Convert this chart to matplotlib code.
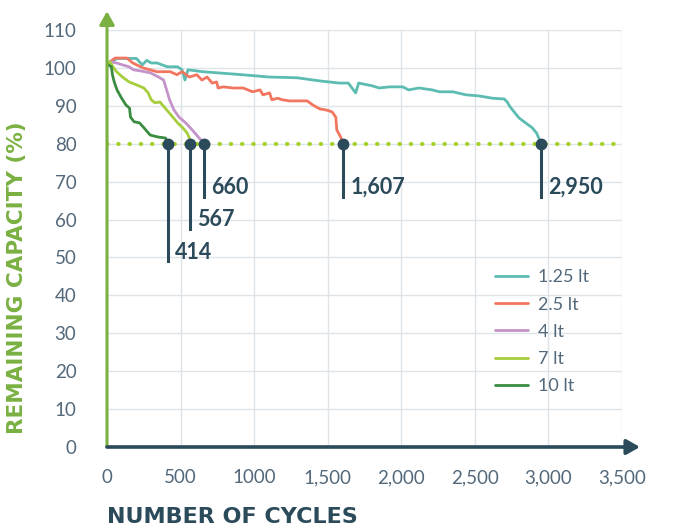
import matplotlib

matplotlib.use("Agg")
import matplotlib.pyplot as plt

# capacity fade per depth-of-discharge series (cycles, remaining %)
cyc_125 = [0, 20, 70, 200, 240, 270, 300, 340, 410, 480, 510, 530, 550, 650, 750, 920, 1100,
           1290, 1460, 1580, 1640, 1690, 1710, 1800, 1850, 1920, 2010, 2050, 2120, 2210, 2260,
           2350, 2440, 2530, 2620, 2700, 2720, 2740, 2800, 2890, 2920, 2950]
cap_125 = [101, 101.5, 102.5, 102.5, 100.8, 102, 101.3, 101.3, 100.3, 100.3, 99.5, 96.8, 99.5,
           99, 98.7, 98.2, 97.6, 97.4, 96.5, 96, 96, 93.4, 96, 95.3, 94.7, 95, 95, 94.2, 94.7,
           94.2, 93.7, 93.7, 92.9, 92.6, 92, 91.8, 91, 89.7, 86.8, 84.2, 82.8, 80]

cyc_25 = [0, 20, 55, 135, 175, 245, 340, 430, 475, 510, 560, 610, 645, 680, 715, 745, 755, 790,
          855, 925, 990, 1040, 1060, 1105, 1120, 1160, 1190, 1240, 1360, 1400, 1445, 1490, 1530,
          1555, 1562, 1585, 1607]
cap_25 = [101, 101.6, 102.6, 102.6, 101.3, 100, 99, 99, 98.2, 99, 97.6, 98.2, 96.8, 97.6, 96,
          96.3, 94.7, 95, 94.7, 94.7, 93.7, 94.2, 92.9, 93.4, 91.6, 92, 91.6, 91.3, 91.3, 90.2,
          89.2, 88.9, 88.4, 87, 83.6, 82, 80]

cyc_4 = [0, 20, 65, 105, 150, 180, 230, 295, 350, 385, 405, 425, 455, 490, 535, 580, 620, 660]
cap_4 = [101, 101.6, 101.3, 100.8, 100.3, 99.5, 99.2, 98.7, 97.6, 96.8, 94.2, 91.6, 88.9, 87,
         85.5, 83.6, 81.8, 80]

cyc_7 = [0, 20, 40, 65, 105, 150, 215, 250, 280, 300, 325, 360, 395, 435, 480, 515, 545, 560, 567]
cap_7 = [101, 101.6, 100.3, 99, 97.6, 96.3, 95.3, 94.7, 93.4, 91.6, 90.8, 91, 89.4, 87.6, 85.5,
         84.2, 82.8, 81.5, 80]

cyc_10 = [0, 30, 37, 49, 68, 98, 129, 153, 160, 184, 221, 251, 293, 343, 398, 414]
cap_10 = [101, 100.3, 98.2, 96.3, 94.2, 92.1, 90.2, 89.4, 87, 85.8, 85.5, 84.2, 82.3, 81.8,
          81.5, 80]

series = [
    ("1.25 lt", cyc_125, cap_125, "#5cbcb1"),
    ("2.5 lt", cyc_25, cap_25, "#f2765f"),
    ("4 lt", cyc_4, cap_4, "#c393c9"),
    ("7 lt", cyc_7, cap_7, "#a6cd3b"),
    ("10 lt", cyc_10, cap_10, "#3a8c40"),
]

# end-of-life points (80 %) and how far the callout stem drops
eol_cycles = [414, 567, 660, 1607, 2950]
eol_labels = ["414", "567", "660", "1,607", "2,950"]
stem_bottom = [49, 57.5, 66, 66, 66]

x_ticks = [0, 500, 1000, 1500, 2000, 2500, 3000, 3500]
x_ticklabels = ["0", "500", "1000", "1,500", "2,000", "2,500", "3,000", "3,500"]
y_ticks = list(range(0, 111, 10))

NAVY = "#2b4a5a"
GREEN = "#7ab142"
GRID = "#dfe4e9"
TICK = "#53687a"

plt.rcParams["font.family"] = ["Lato", "DejaVu Sans"]

fig = plt.figure(figsize=(6.88, 5.26), dpi=100)
ax = fig.add_axes([107 / 688, 1 - 447 / 526, 515 / 688, 417 / 526])

for label, xs, ys, col in series:
    ax.plot(xs, ys, color=col, lw=2.0, label=label, solid_capstyle="round", zorder=3)

# 80 % threshold
ax.plot([0, 3500], [80, 80], color="#a6d12a", lw=3, ls=(0, (0.1, 2.6)),
        dash_capstyle="round", zorder=2)

for c, lab, yb in zip(eol_cycles, eol_labels, stem_bottom):
    ax.plot([c, c], [80, yb], color=NAVY, lw=2.2, zorder=4)
    ax.plot(c, 80, "o", color=NAVY, ms=7.5, zorder=5)
    ax.text(c + 48, yb + 2.4, lab, color=NAVY, fontsize=15.5, fontweight="bold",
            ha="left", va="center", zorder=5)

ax.set_xlim(0, 3500)
ax.set_ylim(0, 110)
ax.set_xticks(x_ticks)
ax.set_xticklabels(x_ticklabels)
ax.set_yticks(y_ticks)
ax.grid(True, color=GRID, lw=1.0, zorder=0)
ax.set_axisbelow(True)
for s in ax.spines.values():
    s.set_visible(False)
ax.tick_params(length=0, colors=TICK, labelsize=13.5)
ax.tick_params(axis="x", pad=16)
ax.tick_params(axis="y", pad=22)

# axis arrows
ax.annotate("", xy=(0, 1.045), xytext=(0, 0), xycoords="axes fraction",
            arrowprops=dict(arrowstyle="-|>,head_length=0.8,head_width=0.45",
                            color=GREEN, lw=2.2, shrinkA=0, shrinkB=0), zorder=6)
ax.annotate("", xy=(1.035, 0), xytext=(0, 0), xycoords="axes fraction",
            arrowprops=dict(arrowstyle="-|>,head_length=0.8,head_width=0.45",
                            color=NAVY, lw=2.6, shrinkA=0, shrinkB=0), zorder=6)

ax.set_ylabel("REMAINING CAPACITY (%)", color=GREEN, fontsize=15.5, fontweight="bold",
              family="DejaVu Sans")
ax.yaxis.set_label_coords(-0.155, 0.405)
fig.text(107 / 688, 1 - 517 / 526, "NUMBER OF CYCLES", color=NAVY, fontsize=16,
         fontweight="bold", family="DejaVu Sans", ha="left", va="center")

leg = ax.legend(loc="upper left", bbox_to_anchor=(0.722, 0.465), frameon=False,
                fontsize=13, handlelength=1.85, labelspacing=0.62, handletextpad=0.55,
                labelcolor=TICK)

fig.savefig("out.png", dpi=100)
